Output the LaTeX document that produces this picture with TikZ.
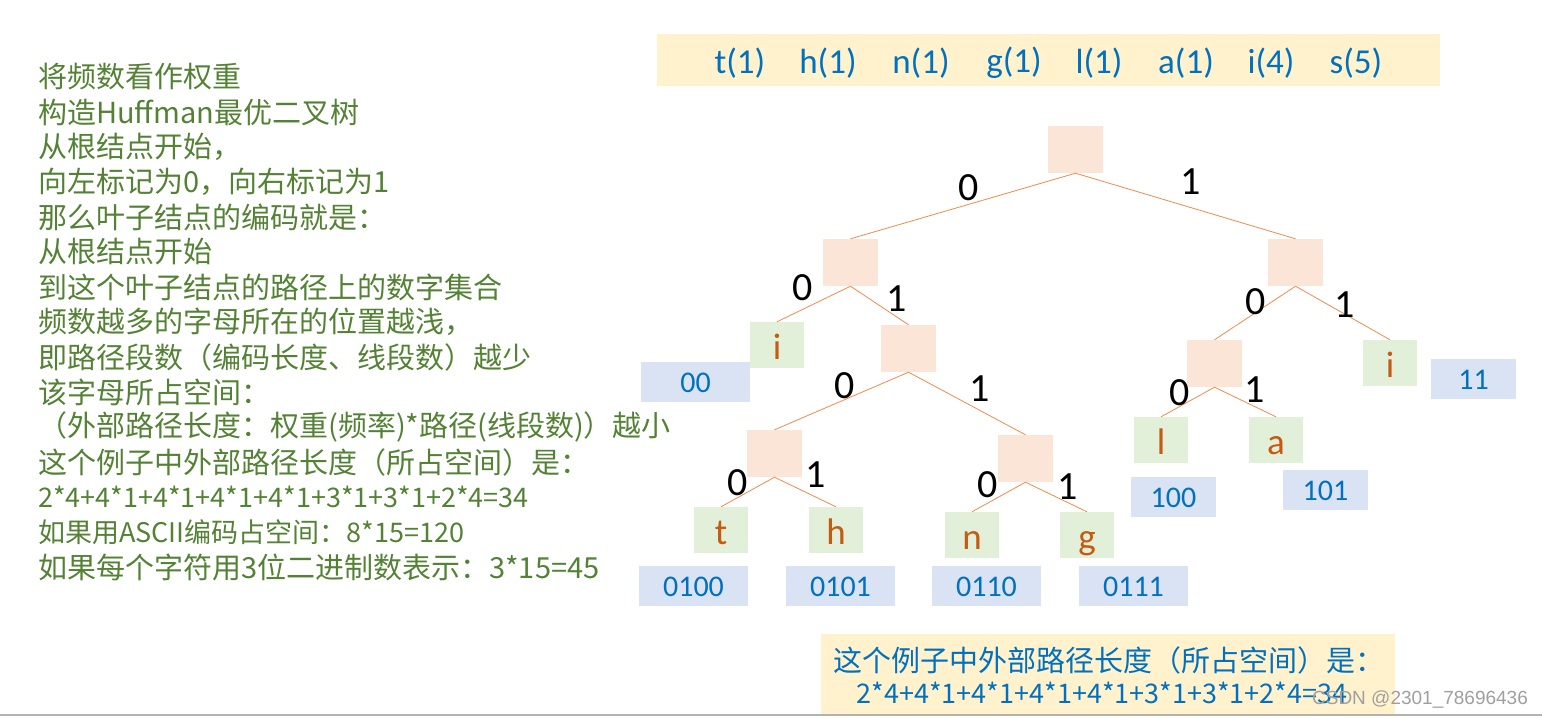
\documentclass[tikz,border=0pt]{standalone}
\usepackage{fontspec}
\setmainfont{Carlito}
\newfontfamily\cjk{Noto Sans CJK SC}
\newfontfamily\marksf{Liberation Sans}
\usetikzlibrary{positioning}

\definecolor{txtgreen}{HTML}{548235}
\definecolor{leafred}{HTML}{C55A11}
\definecolor{codeblue}{HTML}{0070C0}
\definecolor{innerfill}{HTML}{FBE5D6}
\definecolor{leaffill}{HTML}{E2F0D9}
\definecolor{codefill}{HTML}{DAE3F3}
\definecolor{barfill}{HTML}{FFF2CC}
\definecolor{branchcol}{HTML}{F08A4B}

\begin{document}
\begin{tikzpicture}[x=1pt, y=-1pt,
    inner/.style={fill=innerfill, minimum width=55pt, minimum height=47pt, inner sep=0pt},
    leaf/.style={fill=leaffill, minimum width=54pt, minimum height=46pt, inner sep=0pt,
                 text=leafred, text height=30pt, text depth=2pt,
                 font=\fontsize{37}{37}\selectfont},
    code/.style={fill=codefill, minimum width=109pt, minimum height=40pt, inner sep=0pt,
                 text=codeblue, text height=21pt, text depth=1pt,
                 font=\fontsize{30}{30}\selectfont},
    short/.style={code, minimum width=85pt},
    bit/.style={inner sep=0pt, font=\fontsize{40}{40}\selectfont},
    branch/.style={draw=branchcol, line width=0.8pt},
    note/.style={anchor=west, inner sep=0pt, text=txtgreen,
                 font=\cjk\fontsize{29}{29}\selectfont}]
  \useasboundingbox (0,0) rectangle (1542,718);

  % frequency bar
  \node[fill=barfill, minimum width=783pt, minimum height=52pt, inner sep=0pt] (bar) at (1048.5,60) {};
  \foreach \x/\w [count=\k] in {740/{t(1)}, 828/{h(1)}, 921/{n(1)}, 1014/{g(1)},
                                1099/{l(1)}, 1186/{a(1)}, 1271/{i(4)}, 1356/{s(5)}}
    \node[inner sep=0pt, text=codeblue, font=\fontsize{35}{35}\selectfont] (freq-\k) at (\x,63) {\w};

  % explanation
  \foreach \line [count=\k] in {{将频数看作权重}, {构造Huffman最优二叉树}, {从根结点开始，},
      {向左标记为0，向右标记为1}, {那么叶子结点的编码就是：}, {从根结点开始},
      {到这个叶子结点的路径上的数字集合}, {频数越多的字母所在的位置越浅，},
      {即路径段数（编码长度、线段数）越少}, {该字母所占空间：},
      {（外部路径长度：权重(频率)*路径(线段数)）越小}, {这个例子中外部路径长度（所占空间）是：},
      {\fontsize{27}{27}\selectfont 2*4+4*1+4*1+4*1+4*1+3*1+3*1+2*4=34},
      {\fontsize{27}{27}\selectfont 如果用ASCII编码占空间：8*15=120},
      {如果每个字符用3位二进制数表示：3*15=45}}
    \node[note] (note-\k) at (38,42+35*\k) {\line};

  % tree
  \node[inner] (root) at (1075.5,149.5) {};
  \node[inner] (n0) at (850.5,262.5) {};
  \node[inner] (n1) at (1295.5,262.5) {};
  \node[inner] (n01) at (908.5,348.5) {};
  \node[inner] (n10) at (1214.5,363.5) {};
  \node[inner] (n010) at (774.5,453.5) {};
  \node[inner] (n011) at (1025.5,458.5) {};

  \node[leaf] (i0) at (777,345) {i};
  \node[leaf] (i1) at (1390,363) {i};
  \node[leaf] (l) at (1161,440) {l};
  \node[leaf] (a) at (1276,440) {a};
  \node[leaf] (t) at (721,530) {t};
  \node[leaf] (h) at (836,530) {h};
  \node[leaf] (n) at (972,535) {n};
  \node[leaf] (g) at (1087,535) {g};

  \node[code] (c00) at (695.5,382) {00};
  \node[short] (c11) at (1473.5,379) {11};
  \node[short] (c100) at (1173.5,497) {100};
  \node[short] (c101) at (1325.5,490) {101};
  \node[code] (c0100) at (693.5,586) {0100};
  \node[code] (c0101) at (840.5,586) {0101};
  \node[code] (c0110) at (986.5,586) {0110};
  \node[code] (c0111) at (1133.5,586) {0111};

  \draw[branch] (root.south) -- (n0.north);
  \draw[branch] (root.south) -- (n1.north);
  \draw[branch] (n0.south) -- (i0.north);
  \draw[branch] (n0.south) -- (n01.north);
  \draw[branch] (n01.south) -- (n010.north);
  \draw[branch] (n01.south) -- (n011.north);
  \draw[branch] (n010.south) -- (t.north);
  \draw[branch] (n010.south) -- (h.north);
  \draw[branch] (n011.south) -- (n.north);
  \draw[branch] (n011.south) -- (g.north);
  \draw[branch] (n1.south) -- (n10.north);
  \draw[branch] (n1.south) -- (i1.north);
  \draw[branch] (n10.south) -- (l.north);
  \draw[branch] (n10.south) -- (a.north);

  % edge labels
  \node[bit] (b-root0) at (969,188) {0};
  \node[bit] (b-root1) at (1191,182) {1};
  \node[bit] (b-n00) at (803,288) {0};
  \node[bit] (b-n01) at (897,299) {1};
  \node[bit] (b-n010) at (845,386) {0};
  \node[bit] (b-n011) at (980,389) {1};
  \node[bit] (b-n0100) at (738,483) {0};
  \node[bit] (b-n0101) at (816,475) {1};
  \node[bit] (b-n0110) at (988,485) {0};
  \node[bit] (b-n0111) at (1068,487) {1};
  \node[bit] (b-n10) at (1256,302) {0};
  \node[bit] (b-n11) at (1345,305) {1};
  \node[bit] (b-n100) at (1180,393) {0};
  \node[bit] (b-n101) at (1255,390) {1};

  % summary
  \node[fill=barfill, minimum width=574pt, minimum height=81pt, inner sep=0pt] (sum) at (1108,674) {};
  \node[inner sep=0pt, text=codeblue, font=\cjk\fontsize{29}{29}\selectfont] (sum-1) at (1109,660)
    {这个例子中外部路径长度（所占空间）是：};
  \node[inner sep=0pt, text=codeblue, font=\cjk\fontsize{27}{27}\selectfont] (sum-2) at (1102,693)
    {2*4+4*1+4*1+4*1+4*1+3*1+3*1+2*4=34};
  \node[inner sep=0pt, text=gray!75, font=\marksf\fontsize{19}{19}\selectfont] (mark) at (1420,699)
    {CSDN @2301\_78696436};

  \draw[gray!60, line width=1.5pt] (0,715) -- (1542,715);
\end{tikzpicture}
\end{document}
